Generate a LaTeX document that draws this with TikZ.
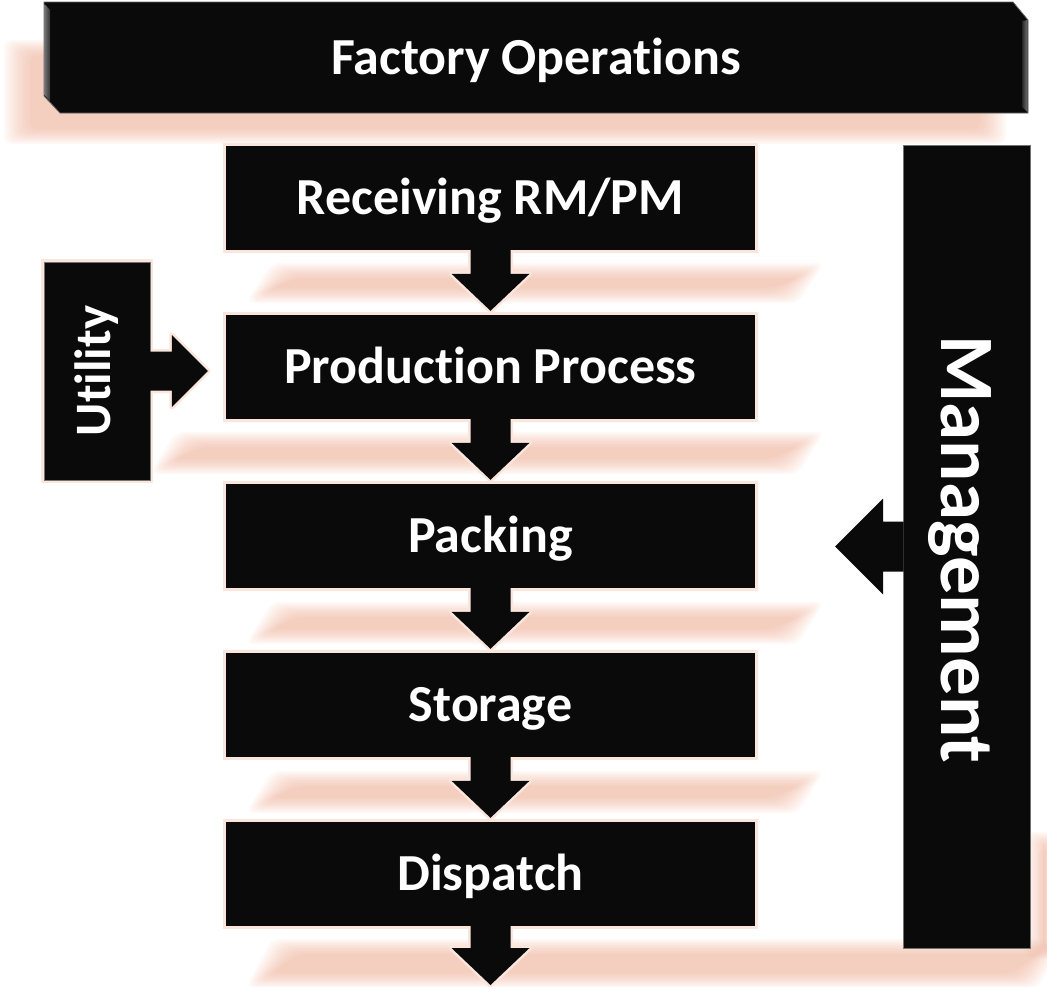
\documentclass[tikz,border=0pt]{standalone}
\usepackage{fontspec}
\setmainfont[Ligatures=NoCommon]{Carlito}
\usetikzlibrary{calc}
\pgfdeclarelayer{bglayer}
\pgfdeclarelayer{glowlayer}
\pgfdeclarelayer{rimlayer}
\pgfsetlayers{bglayer,glowlayer,rimlayer,main}
\definecolor{boxblack}{RGB}{10,10,10}
\definecolor{glowc}{RGB}{243,178,152}
\definecolor{rimc}{RGB}{251,230,222}
\tikzset{
  stagebox/.style={fill=boxblack, text=white, font=\bfseries\fontsize{52}{62}\selectfont,
    minimum width=529pt, minimum height=104pt, inner sep=0pt, text height=33pt, text depth=0pt},
  sidebox/.style={fill=boxblack, draw=black!55, line width=0.6pt, inner sep=0pt},
  arrowfill/.style={fill=boxblack},
  arrowrim/.style={draw=rimc, line width=5pt, line join=round},
  boxrim/.style={draw=rimc, line width=5pt},
  glowpiece/.style={fill=glowc, opacity=0.075},
  bannertext/.style={text=white, font=\bfseries\fontsize{52}{62}\selectfont, inner sep=0pt, text height=32pt, text depth=0pt},
}
% soft (blurred) parallelogram: top-left x, top y, top-right x, bottom y, slant
\newcommand\glowband[5]{%
  \begin{pgfonlayer}{glowlayer}
  \foreach \k in {0,...,10}{
    \fill[glowpiece, rounded corners=8pt]
      ({#1+\k*2.6},{#2+\k*1.5}) -- ({#3-\k*2.6},{#2+\k*1.5}) --
      ({#3-#5-\k*2.6},{#4-\k*1.5}) -- ({#1-#5+\k*2.6},{#4-\k*1.5}) -- cycle;
  }
  \end{pgfonlayer}}
% down block arrow from node #1 to tip coordinate #2, style #3
\newcommand\flowdownpath[3]{%
  \path[#3] ($(#1.south)+(-20,0)$) -- ($(#2)+(-20,-37)$) -- ($(#2)+(-39,-37)$) -- (#2)
    -- ($(#2)+(39,-37)$) -- ($(#2)+(20,-37)$) -- ($(#1.south)+(20,0)$) -- cycle;}
\newcommand\flowdown[2]{%
  \begin{pgfonlayer}{rimlayer}\flowdownpath{#1}{#2}{arrowrim}\end{pgfonlayer}
  \flowdownpath{#1}{#2}{arrowfill}}
\begin{document}
\begin{tikzpicture}[x=1pt,y=-1pt]
\useasboundingbox (0,0) rectangle (1047,986);
\begin{pgfonlayer}{bglayer}
  \fill[white] (0,0) rectangle (1047,986);
\end{pgfonlayer}

% glows
\glowband{4}{40}{1006}{144}{0}
\glowband{272}{263}{824}{303}{26}
\glowband{176}{432}{824}{474}{26}
\glowband{272}{602}{824}{644}{26}
\glowband{272}{771}{824}{813}{26}
\glowband{272}{939}{1064}{988}{26}
\glowband{1024}{832}{1064}{958}{0}

% banner
\fill[boxblack, draw=black!60, line width=0.8pt]
  (44,2) -- (1013,2) -- (1028,20) -- (1028,113) -- (60,113) -- (44,96) -- cycle;
\shade[left color=black!55, right color=black!80] (44.5,4) -- (50,10) -- (50,101) -- (44.5,95) -- cycle;
\shade[left color=black!85, right color=black!55] (1022,21) -- (1027.5,20) -- (1027.5,112) -- (1022,107) -- cycle;
\node[bannertext] (ops) at (536,58) {Factory Operations};

% stages
\node[stagebox] (recv) at (490.5,198) {Receiving RM/PM};
\node[stagebox] (prod) at (490.5,367) {Production Process};
\node[stagebox] (pack) at (490.5,536) {Packing};
\node[stagebox] (stor) at (490.5,705) {Storage};
\node[stagebox] (disp) at (490.5,874) {Dispatch};

% side boxes
\node[sidebox, minimum width=106pt, minimum height=218pt] (util) at (97,371) {};
\node[text=white, font=\bfseries\fontsize{51}{60}\selectfont, rotate=90, inner sep=0pt] (utiltext) at (util.center) {Utility};
\node[sidebox, minimum width=127pt, minimum height=803pt] (mgmt) at (966.5,546.5) {};
\node[text=white, font=\bfseries\fontsize{77}{90}\selectfont, rotate=-90, inner sep=0pt] (mgmttext) at ($(mgmt.center)+(-7,3)$) {Management};

\begin{pgfonlayer}{rimlayer}
  \foreach \n in {recv,prod,pack,stor,disp,util} {
    \draw[boxrim] (\n.north west) rectangle (\n.south east);
  }
\end{pgfonlayer}

% flow arrows
\coordinate (t1) at ($(prod.north)+(0,-4)$);
\coordinate (t2) at ($(pack.north)+(0,-4)$);
\coordinate (t3) at ($(stor.north)+(0,-4)$);
\coordinate (t4) at ($(disp.north)+(0,-4)$);
\coordinate (t5) at (490.5,985);
\flowdown{recv}{t1}
\flowdown{prod}{t2}
\flowdown{pack}{t3}
\flowdown{stor}{t4}
\flowdown{disp}{t5}

% utility arrow
\coordinate (ut) at ($(util.east -| prod.west)+(-18,0)$);
\begin{pgfonlayer}{rimlayer}
\path[arrowrim] ($(util.east)+(0,-19.5)$) -- ($(ut)+(-36,-19.5)$) -- ($(ut)+(-36,-36)$) -- (ut)
  -- ($(ut)+(-36,36)$) -- ($(ut)+(-36,19.5)$) -- ($(util.east)+(0,19.5)$) -- cycle;
\end{pgfonlayer}
\path[arrowfill] ($(util.east)+(-1,-19.5)$) -- ($(ut)+(-36,-19.5)$) -- ($(ut)+(-36,-36)$) -- (ut)
  -- ($(ut)+(-36,36)$) -- ($(ut)+(-36,19.5)$) -- ($(util.east)+(-1,19.5)$) -- cycle;

% management arrow
\coordinate (mt) at ($(mgmt.west -| pack.east)+(80,0)$);
\path[arrowfill] ($(mgmt.west)+(1,-25)$) -- ($(mt)+(48,-25)$) -- ($(mt)+(48,-48)$) -- (mt)
  -- ($(mt)+(48,48)$) -- ($(mt)+(48,25)$) -- ($(mgmt.west)+(1,25)$) -- cycle;
\end{tikzpicture}
\end{document}
